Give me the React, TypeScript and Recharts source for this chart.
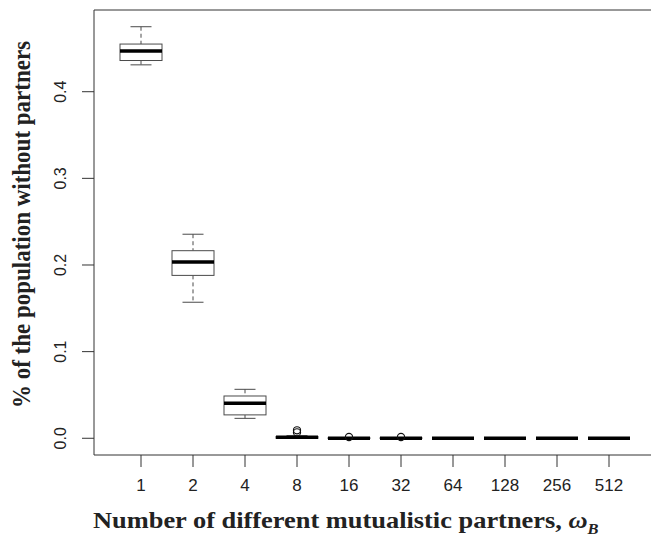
import { ComposedChart, Bar, XAxis, YAxis, ReferenceLine } from "recharts";

const groups = ["1", "2", "4", "8", "16", "32", "64", "128", "256", "512"];
const whiskerLow = [0.431, 0.157, 0.023, 0, 0, 0, 0, 0, 0, 0];
const lowerQuartile = [0.436, 0.188, 0.027, 0, 0, 0, 0, 0, 0, 0];
const medians = [0.447, 0.2035, 0.0405, 0.0012, 0, 0, 0, 0, 0, 0];
const upperQuartile = [0.455, 0.2165, 0.0488, 0.002, 0.0004, 0.0004, 0, 0, 0, 0];
const whiskerHigh = [0.475, 0.2355, 0.0565, 0.003, 0.0008, 0.0008, 0, 0, 0, 0];
const outliers: number[][] = [[], [], [], [0.0092, 0.0068], [0.0015], [0.0015], [], [], [], []];
const yTicks = [0, 0.1, 0.2, 0.3, 0.4];
const yDomain: [number, number] = [-0.0193, 0.4943];

const data = groups.map((label, i) => ({
  label,
  span: yDomain,
  lo: whiskerLow[i],
  q1: lowerQuartile[i],
  med: medians[i],
  q3: upperQuartile[i],
  hi: whiskerHigh[i],
  out: outliers[i],
}));

const SANS = "'Liberation Sans', Arial, Helvetica, sans-serif";
const SERIF = "'Liberation Serif', 'Times New Roman', Times, serif";
// the source figure is a little stretched sideways
const STRETCH = 1.1;

// bar spans the whole y domain, so its rect gives us the pixel scale
function BoxShape(props: any) {
  const { x, y, width, height, payload } = props;
  const top = Math.min(y, y + height);
  const h = Math.abs(height);
  const [d0, d1] = yDomain;
  const py = (v: number) => top + ((d1 - v) / (d1 - d0)) * h;
  const cx = x + width / 2;
  const cap = width / 4;
  const line = "#4a4a4a";
  return (
    <g>
      <line x1={cx} x2={cx} y1={py(payload.hi)} y2={py(payload.q3)} stroke={line} strokeDasharray="4 3" />
      <line x1={cx} x2={cx} y1={py(payload.q1)} y2={py(payload.lo)} stroke={line} strokeDasharray="4 3" />
      <line x1={cx - cap} x2={cx + cap} y1={py(payload.hi)} y2={py(payload.hi)} stroke={line} />
      <line x1={cx - cap} x2={cx + cap} y1={py(payload.lo)} y2={py(payload.lo)} stroke={line} />
      <rect
        x={x}
        y={py(payload.q3)}
        width={width}
        height={py(payload.q1) - py(payload.q3)}
        fill="#fff"
        stroke={line}
      />
      <line x1={x} x2={x + width} y1={py(payload.med)} y2={py(payload.med)} stroke="#000" strokeWidth={3.5} />
      {payload.out.map((v: number, k: number) => (
        <circle key={k} cx={cx} cy={py(v)} r={3.6} fill="none" stroke="#111" strokeWidth={1.1} />
      ))}
    </g>
  );
}

function YTick(props: any) {
  const { x, y, payload } = props;
  const tx = x - 19;
  return (
    <text
      x={tx}
      y={y}
      transform={`rotate(-90 ${tx} ${y})`}
      textAnchor="middle"
      dominantBaseline="central"
      fontFamily={SANS}
      fontSize={16}
      fill="#222"
    >
      {payload.value.toFixed(1)}
    </text>
  );
}

function XTick(props: any) {
  const { x, y, payload } = props;
  return (
    <text x={x} y={y + 22} textAnchor="middle" fontFamily={SANS} fontSize={17} fill="#222">
      {payload.value}
    </text>
  );
}

function XTitle(props: any) {
  const vb = props.viewBox;
  return (
    <g transform={`translate(${vb.x - 1} ${vb.y + 73}) scale(${STRETCH} 1)`}>
      <text x={0} y={0} fontFamily={SERIF} fontWeight="bold" fontSize={24} fill="#222">
        Number of different mutualistic partners,{" "}
        <tspan fontStyle="italic">ω</tspan>
        <tspan fontStyle="italic" fontSize={15} dy={6}>
          B
        </tspan>
      </text>
    </g>
  );
}

function YTitle(props: any) {
  const vb = props.viewBox;
  const tx = 30;
  const ty = vb.y + vb.height / 2 - 8;
  return (
    <g transform={`translate(${tx} ${ty}) scale(${STRETCH} 1) rotate(-90)`}>
      <text x={0} y={0} textAnchor="middle" fontFamily={SERIF} fontWeight="bold" fontSize={23} fill="#222">
        % of the population without partners
      </text>
    </g>
  );
}

export default function App() {
  return (
    <div
      style={{
        position: "absolute",
        left: 0,
        top: 0,
        width: 651,
        height: 538,
        overflow: "hidden",
        background: "#fff",
      }}
    >
      <ComposedChart width={700} height={538} data={data} margin={{ top: 10, right: 44, left: 0, bottom: 0 }}>
        <XAxis
          dataKey="label"
          type="category"
          height={83}
          padding={{ left: 21, right: 21 }}
          axisLine={{ stroke: "#333" }}
          tickLine={{ stroke: "#333" }}
          tickSize={12}
          tick={<XTick />}
          interval={0}
          label={<XTitle />}
        />
        <YAxis
          width={94}
          type="number"
          domain={yDomain}
          allowDataOverflow
          ticks={yTicks}
          axisLine={{ stroke: "#333" }}
          tickLine={{ stroke: "#333" }}
          tickSize={12}
          tick={<YTick />}
          label={<YTitle />}
        />
        <ReferenceLine y={yDomain[1]} stroke="#333" />
        <Bar dataKey="span" barSize={42} shape={<BoxShape />} isAnimationActive={false} />
      </ComposedChart>
    </div>
  );
}
